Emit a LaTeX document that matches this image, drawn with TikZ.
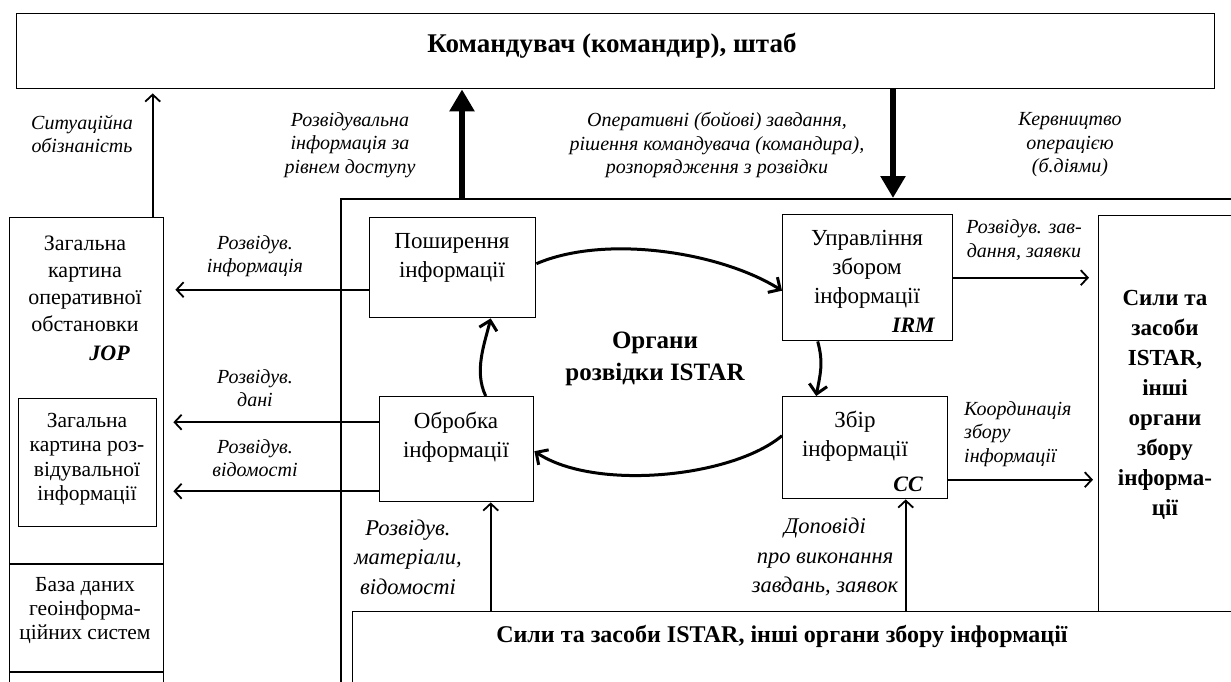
\documentclass[tikz,border=0pt]{standalone}
\usepackage{fontspec}
\setmainfont{Liberation Serif}
\usetikzlibrary{arrows.meta,calc}
\begin{document}
\begin{tikzpicture}[x=1pt,y=-1pt,
  box/.style={draw, line width=1.4pt, inner sep=0pt, anchor=north west},
  lbl/.style={font=\fontsize{20}{23.5}\selectfont\itshape, align=center, inner sep=0pt},
  biglbl/.style={font=\fontsize{22.5}{29.5}\selectfont\itshape, align=center, inner sep=0pt},
  txt/.style={font=\fontsize{23}{29}\selectfont, align=center, inner sep=0pt},
  btxt/.style={font=\fontsize{23}{30}\selectfont\bfseries, align=center, inner sep=0pt},
  abbr/.style={font=\fontsize{22}{28}\selectfont\bfseries\itshape, anchor=east, inner sep=0pt},
  thinarr/.style={line width=1.8pt, -{Straight Barb[length=7pt,width=15pt]}},
  cyc/.style={line width=3pt, -{Straight Barb[length=9pt,width=18pt]}},
  bigarr/.style={line width=6pt, -{Triangle[length=22pt,width=24pt]}},
]
\useasboundingbox (0,0) rectangle (1231,682);
\clip (0,0) rectangle (1231,682);

% top box
\node[box, minimum width=1198pt, minimum height=75pt] (top) at (16,13) {};
\node[font=\fontsize{27}{32}\selectfont\bfseries, inner sep=0pt] (toptitle) at (612,46) {Командувач (командир), штаб};

% left column
\node[box, minimum width=154pt, minimum height=500pt] (leftcol) at (9,217) {};
\node[box, minimum width=138pt, minimum height=128pt] (inner) at (18,398) {};
\draw[line width=1.4pt] (leftcol.west |- 0,564) -- (leftcol.east |- 0,564);
\draw[line width=1.4pt] (leftcol.west |- 0,672) -- (leftcol.east |- 0,672);
\node[txt, font=\fontsize{22}{27}\selectfont] (jopt) at (85,284) {Загальна\\картина\\оперативної\\обстановки};
\node[abbr] (jop) at (130,353) {JOP};
\node[txt, font=\fontsize{21.5}{24.5}\selectfont] (innert) at (87,459) {Загальна\\картина роз-\\відувальної\\інформації};
\node[txt, font=\fontsize{21.5}{24}\selectfont] (baset) at (85,611) {База даних\\геоінформа-\\ційних систем};

% big container
\node[box, line width=2pt, minimum width=910pt, minimum height=520pt] (big) at (340,198) {};
\node[box, minimum width=150pt, minimum height=396pt] (rbox) at (1098,215) {};
\node[box, minimum width=900pt, minimum height=100pt] (bbox) at (352,611) {};
\node[btxt] (rtext) at (1165,405) {Сили та\\засоби\\ISTAR,\\інші\\органи\\збору\\інформа-\\ції};
\node[btxt, font=\fontsize{24}{30}\selectfont\bfseries] (btitle) at (782,636) {Сили та засоби ISTAR, інші органи збору інформації};

% inner boxes
\node[box, minimum width=166pt, minimum height=100pt] (pos) at (369,217) {};
\node[box, minimum width=154pt, minimum height=105pt] (obr) at (379,396) {};
\node[box, minimum width=170pt, minimum height=126pt] (upr) at (782,214) {};
\node[box, minimum width=165pt, minimum height=102pt] (zbir) at (782,396) {};
\node[txt] (post) at (452,258) {Поширення\\інформації};
\node[txt] (obrt) at (456,437) {Обробка\\інформації};
\node[txt] (uprt) at (867,269) {Управління\\збором\\інформації};
\node[abbr] (irm) at (935,325) {IRM};
\node[txt] (zbirt) at (855,436) {Збір\\інформації};
\node[abbr] (cc) at (923,484) {CC};
\node[font=\fontsize{25}{32}\selectfont\bfseries, align=center, inner sep=0pt] (org) at (655,359) {Органи\\розвідки ISTAR};

% top labels
\node[lbl] (sit) at (82,134) {Ситуаційна\\обізнаність};
\node[lbl] (rozv) at (350,145) {Розвідувальна\\інформація за\\рівнем доступу};
\node[lbl] (oper) at (717,145) {Оперативні (бойові) завдання,\\рішення командувача (командира),\\розпорядження з розвідки};
\node[lbl] (kerv) at (1070,145) {Кервництво\\операцією\\(б.діями)};

% side labels
\node[lbl] (l1) at (255,256) {Розвідув.\\інформація};
\node[lbl] (l2) at (255,388) {Розвідув.\\дані};
\node[lbl] (l3) at (255,458) {Розвідув.\\відомості};
\node[lbl] (r1) at (1024,240) {Розвідув. зав-\\дання, заявки};
\node[lbl, align=left, anchor=west] (r2) at (964,434) {Координація\\збору\\інформації};
\node[biglbl] (b1) at (408,557) {Розвідув.\\матеріали,\\відомості};
\node[biglbl] (b2) at (825,557) {Доповіді\\про виконання\\завдань, заявок};

% vertical arrows to/from top box
\coordinate (sa) at ([xshift=66pt]leftcol.north);
\draw[thinarr, shorten >=4pt] (sa) -- (sa |- top.south);
\coordinate (ua) at (462,0);
\draw[bigarr] (ua |- big.north) -- (ua |- top.south);
\coordinate (da) at (893,0);
\draw[bigarr] (da |- top.south) -- (da |- big.north);

% left arrows
\coordinate (la1) at ([yshift=-22pt]pos.west);
\draw[thinarr, shorten >=11pt] (la1) -- (la1 -| leftcol.east);
\coordinate (la2) at ([yshift=27pt]obr.west);
\draw[thinarr, shorten >=9pt] (la2) -- (la2 -| leftcol.east);
\coordinate (la3) at ([yshift=-42pt]obr.west);
\draw[thinarr, shorten >=9pt] (la3) -- (la3 -| leftcol.east);

% right arrows
\draw[thinarr, shorten >=9pt] (upr.east) -- (upr.east -| rbox.west);
\coordinate (ra2) at ([yshift=-32pt]zbir.east);
\draw[thinarr, shorten >=5pt] (ra2) -- (ra2 -| rbox.west);

% bottom arrows
\coordinate (ba1) at ([xshift=34pt]obr.south);
\draw[thinarr] (ba1 |- bbox.north) -- (ba1);
\coordinate (ba2) at ([xshift=40.5pt]zbir.south);
\draw[thinarr] (ba2 |- bbox.north) -- (ba2);

% cycle
\draw[cyc] ([yshift=4pt]pos.east) .. controls +(70,-30) and +(-60,-38) .. ([yshift=-13pt]upr.west);
\draw[cyc] ([xshift=-50pt]upr.south) .. controls +(6,22) and +(4,-22) .. ([xshift=-49pt]zbir.north);
\draw[cyc] ([yshift=12pt]zbir.west) .. controls +(-50,42) and +(60,40) .. ([yshift=-2pt]obr.east);
\draw[cyc] ([xshift=29pt]obr.north) .. controls +(-12,-25) and +(-6,25) .. ([xshift=38pt]pos.south);
\end{tikzpicture}
\end{document}
